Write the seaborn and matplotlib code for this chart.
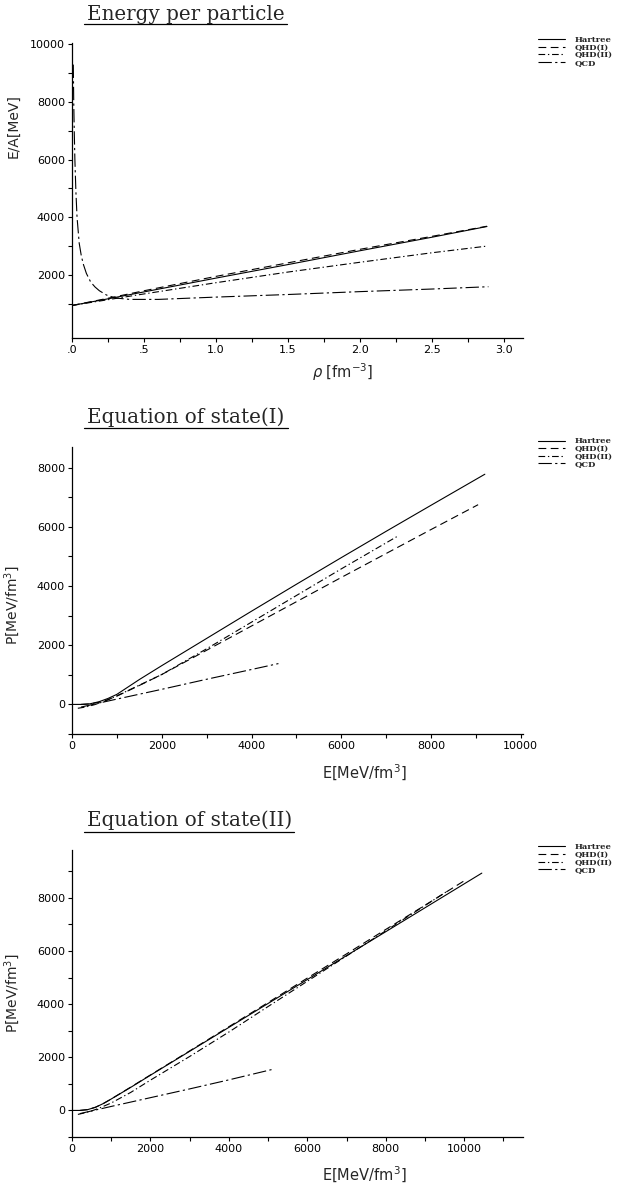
import numpy as np
import pandas as pd
import matplotlib
matplotlib.use("Agg")
import matplotlib.pyplot as plt
from matplotlib.lines import Line2D
from matplotlib.ticker import FixedLocator
import seaborn as sns

sns.set_style("ticks")
plt.rcParams['font.family'] = ['DejaVu Sans']
plt.rcParams['mathtext.fontset'] = 'dejavusans'

# ---------------- data ----------------
series_names = ["Hartree", "QHD(I)", "QHD(II)", "QCD"]

# Panel 1: energy per particle vs density
rho_hartree = [0.0, 0.25, 0.5, 1.0, 1.5, 2.0, 2.5, 2.88]
ea_hartree = [939, 1170, 1410, 1890, 2360, 2840, 3310, 3680]
rho_qhd1 = [0.0, 0.25, 0.5, 1.0, 1.5, 2.0, 2.5, 2.88]
ea_qhd1 = [939, 1190, 1450, 1950, 2420, 2890, 3340, 3690]
rho_qhd2 = [0.0, 0.25, 0.5, 1.0, 1.5, 2.0, 2.5, 2.88]
ea_qhd2 = [939, 1140, 1340, 1730, 2100, 2440, 2770, 3000]
rho_qcd = [0.009, 0.012, 0.016, 0.02, 0.027, 0.035, 0.05, 0.065, 0.08, 0.1, 0.13,
           0.16, 0.19, 0.24, 0.3, 0.4, 0.6, 1.0, 1.5, 2.0, 2.5, 2.89]
ea_qcd = [9300, 8000, 6900, 6000, 4900, 4000, 3100, 2650, 2350, 2050, 1750,
          1580, 1450, 1300, 1200, 1150, 1150, 1230, 1320, 1420, 1510, 1590]

# Panel 2: equation of state (I)
e1_hartree = [0, 200, 400, 600, 800, 1000, 1500, 2000, 3000, 4000, 5000, 6000, 7000, 8000, 9200]
p1_hartree = [0, 0, 20, 90, 200, 340, 840, 1310, 2230, 3150, 4060, 4960, 5850, 6730, 7780]
e1_qhd1 = [200, 400, 600, 800, 1000, 1500, 2000, 3000, 4000, 5000, 6000, 7000, 8000, 9050]
p1_qhd1 = [0, 15, 70, 160, 280, 640, 1010, 1830, 2650, 3470, 4290, 5100, 5910, 6750]
e1_qhd2 = [130, 300, 500, 700, 1000, 1500, 2000, 3000, 4000, 5000, 6000, 7250]
p1_qhd2 = [-130, -90, -10, 90, 290, 650, 1010, 1880, 2780, 3680, 4580, 5680]
e1_qcd = [200, 1000, 2000, 3000, 4000, 4600]
p1_qcd = [-90, 180, 510, 850, 1180, 1380]

# Panel 3: equation of state (II)
e2_hartree = [0, 200, 400, 600, 800, 1000, 1500, 2000, 3000, 4000, 5000, 6000, 7000, 8000, 9000, 10450]
p2_hartree = [0, 0, 30, 120, 260, 430, 870, 1325, 2225, 3125, 4025, 4925, 5825, 6725, 7625, 8930]
e2_qhd1 = [200, 400, 600, 800, 1000, 1500, 2000, 3000, 4000, 5000, 6000, 7000, 8000, 9000, 10000]
p2_qhd1 = [0, 30, 120, 260, 430, 880, 1335, 2240, 3150, 4060, 4980, 5890, 6810, 7720, 8640]
e2_qhd2 = [150, 300, 500, 700, 1000, 1500, 2000, 3000, 4000, 5000, 6000, 7000, 8000, 9600]
p2_qhd2 = [-150, -100, -20, 90, 280, 680, 1140, 2030, 2950, 3910, 4860, 5810, 6760, 8280]
e2_qcd = [200, 1000, 2000, 3000, 4000, 5100]
p2_qcd = [-120, 150, 480, 810, 1150, 1540]

p1_xticklabels = [".0", ".5", "1.0", "1.5", "2.0", "2.5", "3.0"]

# ---------------- figure ----------------
W, H = 624, 1191
fig = plt.figure(figsize=(W / 100, H / 100), dpi=100)


def axes_px(left, top, right, bottom):
    return fig.add_axes([left / W, 1 - bottom / H, (right - left) / W, (bottom - top) / H])


styles = {
    "Hartree": "-",
    "QHD(I)": (0, (7, 4)),
    "QHD(II)": (0, (6, 2.5, 1.2, 2.5)),
    "QCD": (0, (12, 3, 2, 3)),
}
lw = 0.8


def draw(ax, data):
    for name, (x, y) in zip(series_names, data):
        sns.lineplot(x=x, y=y, ax=ax, color="black", linestyle=styles[name],
                     linewidth=lw, sort=False, errorbar=None, label=name)


def style_axes(ax):
    sns.despine(ax=ax)
    for s in ["left", "bottom"]:
        ax.spines[s].set_linewidth(0.9)
        ax.spines[s].set_color("black")
    ax.tick_params(axis="both", which="both", direction="out", length=3, width=0.8,
                   labelsize=8, colors="black", pad=2)


def legend(ax, y_anchor):
    leg = ax.legend(loc="upper left", bbox_to_anchor=(1.025, y_anchor), frameon=False,
                    labelspacing=-0.05, handlelength=3.3, handletextpad=1.1,
                    borderaxespad=0, prop={"family": "DejaVu Serif", "weight": "bold", "size": 6})
    return leg


def title(text, y_base, y_line, x1, x2):
    fig.text(87 / W, 1 - y_base / H, text, family="DejaVu Serif", fontsize=14.3,
             ha="left", va="baseline")
    fig.add_artist(Line2D([x1 / W, x2 / W], [1 - y_line / H, 1 - y_line / H],
                          color="black", linewidth=0.9))


# ---- Panel 1
ax1 = axes_px(72, 43, 523, 338)
draw(ax1, [(rho_hartree, ea_hartree), (rho_qhd1, ea_qhd1), (rho_qhd2, ea_qhd2), (rho_qcd, ea_qcd)])
ax1.set_xlim(0, 3.13)
ax1.set_ylim(-190, 10050)
ax1.xaxis.set_major_locator(FixedLocator([0, 0.5, 1.0, 1.5, 2.0, 2.5, 3.0]))
ax1.set_xticklabels(p1_xticklabels)
ax1.xaxis.set_minor_locator(FixedLocator([0.25, 0.75, 1.25, 1.75, 2.25, 2.75]))
ax1.yaxis.set_major_locator(FixedLocator([2000, 4000, 6000, 8000, 10000]))
ax1.yaxis.set_minor_locator(FixedLocator([1000, 3000, 5000, 7000, 9000]))
style_axes(ax1)
ax1.set_ylabel("E/A[MeV]", fontsize=10)
ax1.yaxis.set_label_coords(-0.115, 0.72)
ax1.set_xlabel(r"$\rho$ [fm$^{-3}$]", fontsize=10.5)
ax1.xaxis.set_label_coords(0.6, -0.08)
legend(ax1, 1.035)
title("Energy per particle", 19.5, 24, 84, 287)

# ---- Panel 2
ax2 = axes_px(72, 447, 523, 734)
draw(ax2, [(e1_hartree, p1_hartree), (e1_qhd1, p1_qhd1), (e1_qhd2, p1_qhd2), (e1_qcd, p1_qcd)])
ax2.set_xlim(0, 10050)
ax2.set_ylim(-1000, 8700)
ax2.xaxis.set_major_locator(FixedLocator([0, 2000, 4000, 6000, 8000, 10000]))
ax2.xaxis.set_minor_locator(FixedLocator([1000, 3000, 5000, 7000, 9000]))
ax2.yaxis.set_major_locator(FixedLocator([0, 2000, 4000, 6000, 8000]))
ax2.yaxis.set_minor_locator(FixedLocator([-1000, 1000, 3000, 5000, 7000]))
style_axes(ax2)
ax2.set_ylabel(r"P[MeV/fm$^3$]", fontsize=10)
ax2.yaxis.set_label_coords(-0.11, 0.45)
ax2.set_xlabel(r"E[MeV/fm$^3$]", fontsize=10.5)
ax2.xaxis.set_label_coords(0.647, -0.1)
legend(ax2, 1.045)
title("Equation of state(I)", 423, 428, 84, 288)

# ---- Panel 3
ax3 = axes_px(72, 850, 523, 1137)
draw(ax3, [(e2_hartree, p2_hartree), (e2_qhd1, p2_qhd1), (e2_qhd2, p2_qhd2), (e2_qcd, p2_qcd)])
ax3.set_xlim(0, 11500)
ax3.set_ylim(-1000, 9800)
ax3.xaxis.set_major_locator(FixedLocator([0, 2000, 4000, 6000, 8000, 10000]))
ax3.xaxis.set_minor_locator(FixedLocator([1000, 3000, 5000, 7000, 9000, 11000]))
ax3.yaxis.set_major_locator(FixedLocator([0, 2000, 4000, 6000, 8000]))
ax3.yaxis.set_minor_locator(FixedLocator([-1000, 1000, 3000, 5000, 7000, 9000]))
style_axes(ax3)
ax3.set_ylabel(r"P[MeV/fm$^3$]", fontsize=10)
ax3.yaxis.set_label_coords(-0.11, 0.5)
ax3.set_xlabel(r"E[MeV/fm$^3$]", fontsize=10.5)
ax3.xaxis.set_label_coords(0.647, -0.098)
legend(ax3, 1.035)
title("Equation of state(II)", 826, 832, 84, 294)

fig.savefig("out.png", dpi=100)
